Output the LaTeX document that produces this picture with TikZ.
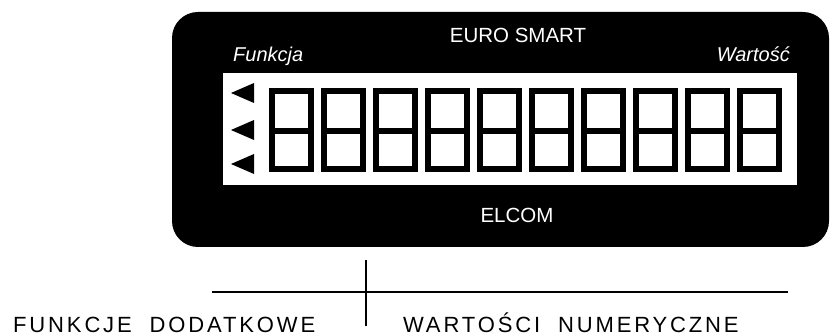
\documentclass[tikz,border=0pt]{standalone}
\usepackage{fontspec}
\setmainfont{Liberation Sans}
\usepackage{tikz}
\usetikzlibrary{calc,positioning}

\tikzset{
  paneltext/.style={text=white, inner sep=0pt, font=\fontsize{20.5}{24}\selectfont},
  paneltag/.style={text=white, inner sep=0pt, font=\fontsize{20}{24}\selectfont\itshape},
  captiontext/.style={inner sep=0pt, font=\fontsize{22}{26}\selectfont\addfontfeature{LetterSpace=13}},
  segment/.style={line width=6pt, black},
  marker/.style={fill=black, draw=none},
  leader/.style={line width=1.6pt, black}
}

\begin{document}
\begin{tikzpicture}[x=1pt, y=-1pt]
\useasboundingbox (0,0) rectangle (840,336);
% meter housing
\fill[black, rounded corners=26pt] (172,12) rectangle (829,247);
% display window
\fill[white] (223,73) rectangle (797,185);
% seven segment digits
\foreach \i in {0,...,9}{
  \pgfmathsetmacro{\xa}{272+52*\i}
  \pgfmathsetmacro{\xb}{\xa+39}
  \draw[segment] (\xa,91) rectangle (\xb,169);
  \draw[segment] (\xa-3,131) -- (\xb+3,131);
}
% function markers
\foreach \y in {93,130,164}{
  \fill[marker] (231,\y) -- (254,\y-10) -- (254,\y+10) -- cycle;
}
% panel labels
\node[paneltext] (brand) at (518,35.5) {EURO SMART};
\node[paneltag, anchor=base west] (funkcja) at (233,62) {Funkcja};
\node[paneltag, anchor=base east] (wartosc) at (790,62) {Warto\'s\'c};
\node[paneltext] (maker) at (517,215.5) {ELCOM};
% captions and leaders
\node[captiontext, anchor=base west] (extras) at (13,332) {FUNKCJE\ \ DODATKOWE};
\node[captiontext, anchor=base west] (values) at (403,332) {WARTO\'SCI\ \ NUMERYCZNE};
\coordinate (lineL) at (212,292);
\coordinate (lineR) at (788,292);
\coordinate (stemT) at (366,260);
\coordinate (stemB) at (366,326);
\draw[leader] (lineL) -- (lineR);
\draw[leader] (stemT) -- (stemB);
\end{tikzpicture}
\end{document}
